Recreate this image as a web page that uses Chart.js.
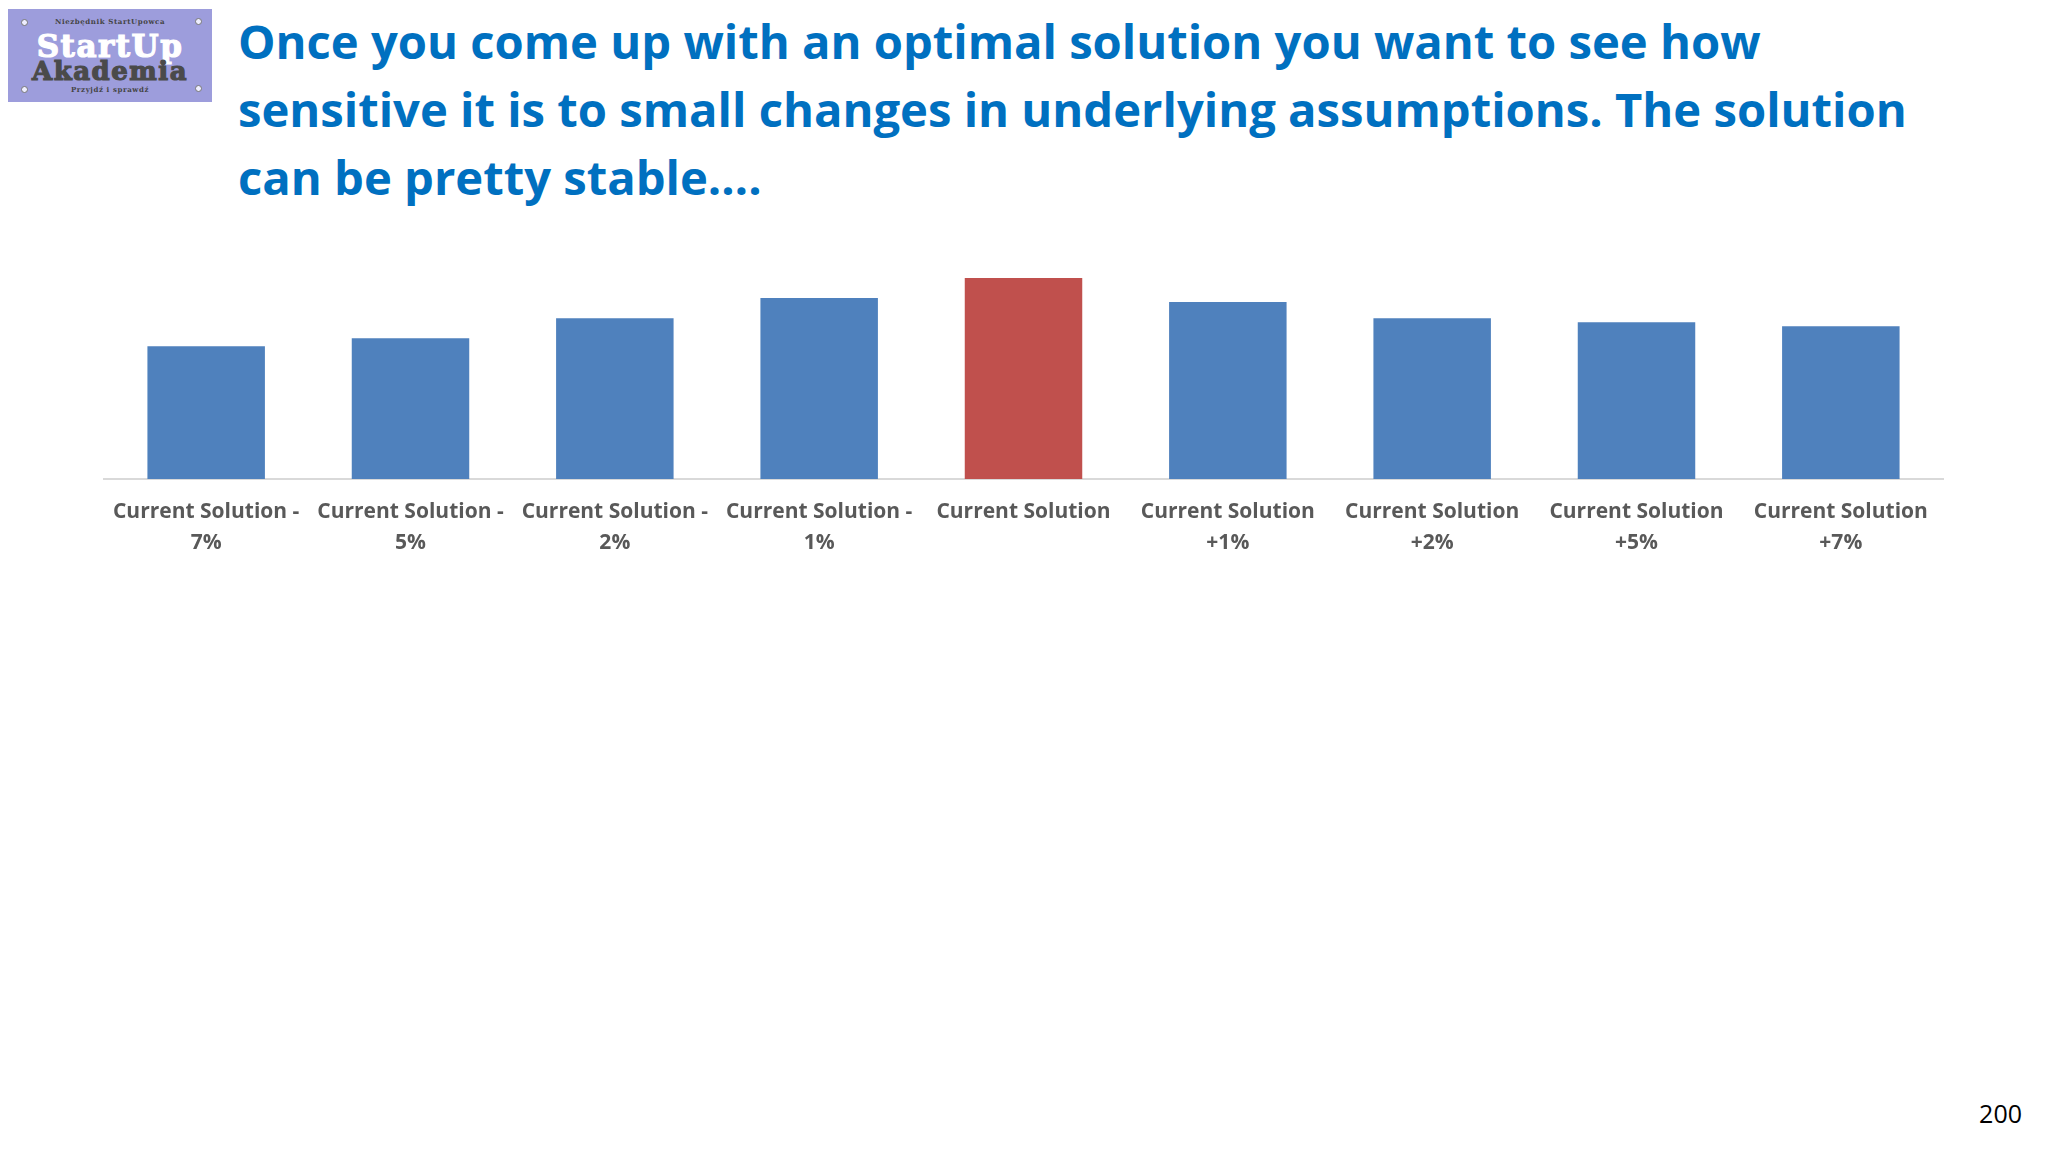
<!DOCTYPE html>
<html>
<head>
<meta charset="utf-8">
<script src="https://cdn.jsdelivr.net/npm/chart.js@4.4.1/dist/chart.umd.min.js"></script>
<style>
  html, body { margin: 0; padding: 0; background: #fff; }
  body { width: 2048px; height: 1152px; position: relative; overflow: hidden; font-family: "Open Sans", sans-serif; }
  .logo { position: absolute; left: 8px; top: 9px; width: 204px; height: 93px; background: #9d9ddc; }
  .logo .screw { position: absolute; width: 7px; height: 7px; border-radius: 50%; background: #eef; border: 1px solid #777; box-sizing: border-box; }
  .logo .small { position: absolute; left: 0; width: 204px; text-align: center; font-family: "DejaVu Serif", serif; font-weight: bold; font-size: 7px; line-height: 8px; color: #444; letter-spacing: 0.6px; }
  .logo .big { position: absolute; left: 0; width: 204px; text-align: center; font-family: "DejaVu Serif", serif; font-weight: bold; line-height: 1; letter-spacing: 1.5px; -webkit-text-stroke: 1.2px currentColor; }
  .title { position: absolute; left: 238px; top: 7px; width: 1790px; color: #0070c0; font-weight: 700; font-size: 47.2px; line-height: 68px; }
  .page { position: absolute; right: 26px; top: 1096px; font-size: 25px; color: #000; }
  #wrap { position: absolute; left: 0; top: 250px; width: 2048px; height: 326px; }
</style>
</head>
<body>
<div class="logo">
  <div class="screw" style="left:13px;top:10px"></div>
  <div class="screw" style="left:187px;top:9px"></div>
  <div class="screw" style="left:13px;top:77px"></div>
  <div class="screw" style="left:187px;top:76px"></div>
  <div class="small" style="top:9px">Niezbędnik StartUpowca</div>
  <div class="big" style="top:22px;font-size:31px;color:#fff">StartUp</div>
  <div class="big" style="top:49px;font-size:26px;color:#4a4a4a">Akademia</div>
  <div class="small" style="top:77px">Przyjdź i sprawdź</div>
</div>
<div class="title">Once you come up with an optimal solution you want to see how<br>sensitive it is to small changes in underlying assumptions. The solution<br>can be pretty stable….</div>
<div class="page">200</div>
<div id="wrap"><canvas id="chart"></canvas></div>
<script>
const categories = [
  ["Current Solution -", "7%"],
  ["Current Solution -", "5%"],
  ["Current Solution -", "2%"],
  ["Current Solution -", "1%"],
  ["Current Solution"],
  ["Current Solution", "+1%"],
  ["Current Solution", "+2%"],
  ["Current Solution", "+5%"],
  ["Current Solution", "+7%"]
];
const values = [66, 70, 80, 90, 100, 88, 80, 78, 76];
const highlightIndex = 4;

const blue = "#4f81bd";
const red = "#c0504d";

const ctx = document.getElementById("chart").getContext("2d");
new Chart(ctx, {
  type: "bar",
  data: {
    labels: categories,
    datasets: [
      {
        data: values,
        backgroundColor: (c) => (c.dataIndex === highlightIndex ? red : blue),
        borderWidth: 0,
        categoryPercentage: 1,
        barPercentage: 0.575,
      },
    ],
  },
  options: {
    responsive: true,
    maintainAspectRatio: false,
    animation: false,
    layout: { padding: { left: 104, right: 105, top: 28, bottom: 0 } },
    plugins: {
      legend: { display: false },
      tooltip: { enabled: false },
    },
    scales: {
      x: {
        grid: { display: false, drawTicks: false },
        border: { display: true, color: "#d9d9d9", width: 2 },
        ticks: {
          color: "#595959",
          padding: 18,
          maxRotation: 0,
          autoSkip: false,
          font: { family: "'Open Sans'", size: 21, weight: "bold", lineHeight: 30.5 / 21 },
        },
      },
      y: {
        display: false,
        min: 0,
        max: 100,
      },
    },
  },
});
</script>
</body>
</html>
